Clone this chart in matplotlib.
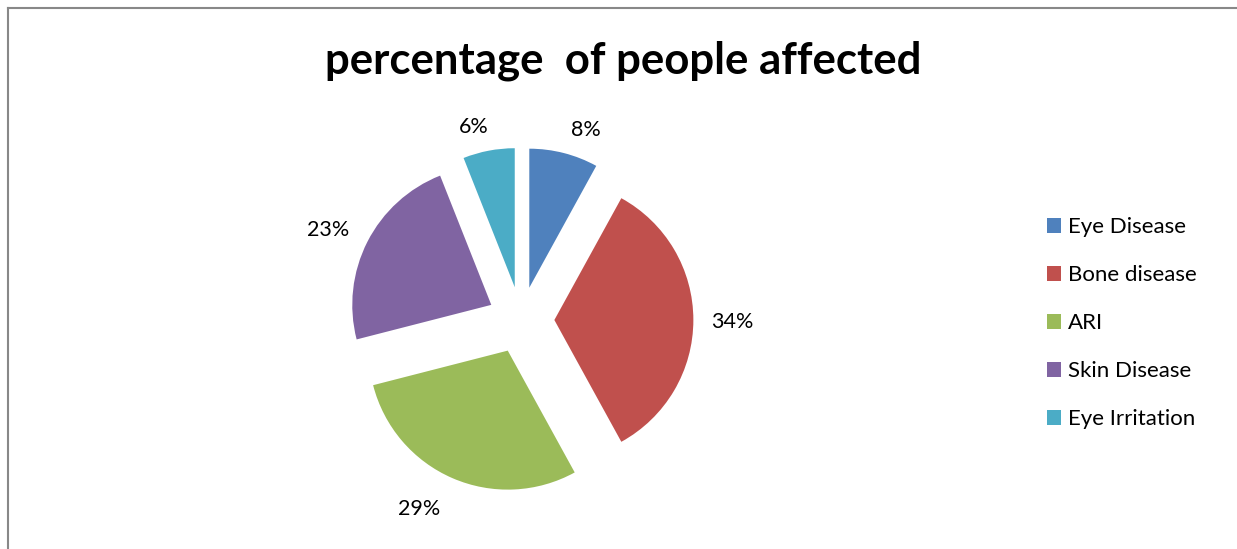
import matplotlib
matplotlib.use("Agg")
import matplotlib.pyplot as plt
from matplotlib.lines import Line2D
from matplotlib.patches import Patch
import numpy as np

categories = ["Eye Disease", "Bone disease", "ARI", "Skin Disease", "Eye Irritation"]
values = [8, 34, 29, 23, 6]
colors = ["#4F81BD", "#C0504D", "#9BBB59", "#8064A2", "#4BACC6"]
title = "percentage  of people affected"

plt.rcParams['font.family'] = ['Lato', 'DejaVu Sans']

W, H = 1237, 549
fig = plt.figure(figsize=(W / 100, H / 100), dpi=100)
fig.patch.set_facecolor("white")

cx, cy, R = 521, 320, 139  # pixel center (from top) and radius
ax = fig.add_axes([0, 0, 1, 1])
explode = [0.24] * len(values)
wedges, _ = ax.pie(values, colors=colors, startangle=90, counterclock=False,
                   explode=explode, radius=1.0,
                   wedgeprops=dict(linewidth=0))
ax.set_xlim(-cx / R, (W - cx) / R)
ax.set_ylim(-(H - cy) / R, cy / R)
ax.set_aspect('auto')
ax.axis('off')

# label placement (style): radial distance and angular nudge per label
label_dist = [1.205, 1.278, 1.305, 1.292, 1.192]
label_nudge = [-4.5, -0.5, -4.95, 2.0, 2.85]
total = sum(values)
for w, v, d, a, e in zip(wedges, values, label_dist, label_nudge, explode):
    ang = np.deg2rad((w.theta1 + w.theta2) / 2 + a)
    x = (e + d) * np.cos(ang)
    y = (e + d) * np.sin(ang)
    ax.text(x, y, f"{round(100 * v / total)}%", ha='center', va='center',
            fontsize=15.5, color='#000000')

fig.text(623 / W, 1 - 61 / H, title, ha='center', va='center',
         fontsize=31.5, fontweight='bold', color='black')

handles = [Patch(facecolor=c, edgecolor='none') for c in colors]
leg = fig.legend(handles, categories, loc='upper left',
                 bbox_to_anchor=(1038 / W, 1 - 208 / H), frameon=False,
                 fontsize=16, handlelength=0.65, handleheight=0.65,
                 handletextpad=0.3, labelspacing=1.26, borderaxespad=0)

# chart border (left and top)
fig.add_artist(Line2D([8 / W, 8 / W], [0, 1 - 8 / H], transform=fig.transFigure,
                      color='#888888', linewidth=1.5))
fig.add_artist(Line2D([8 / W, 1], [1 - 8 / H, 1 - 8 / H], transform=fig.transFigure,
                      color='#888888', linewidth=1.5))

fig.savefig("out.png", dpi=100)
